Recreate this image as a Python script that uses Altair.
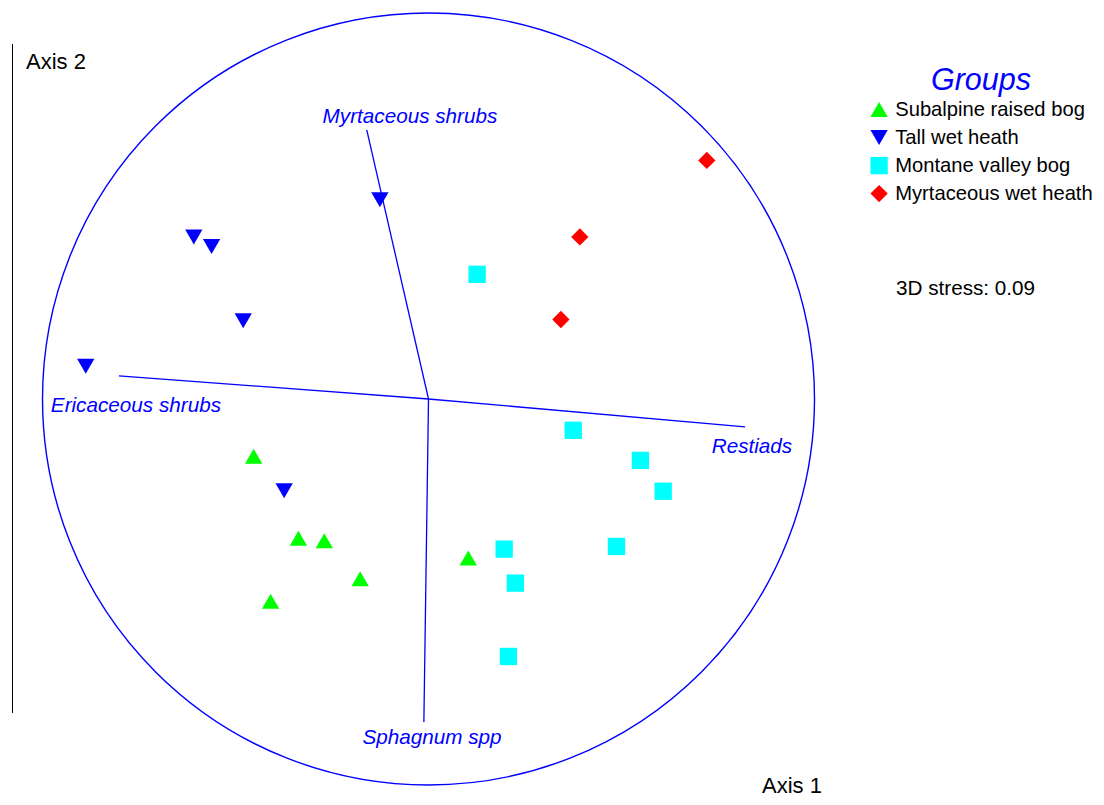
import altair as alt
import pandas as pd

# ---------------- data ----------------
groups = ["Subalpine raised bog", "Tall wet heath", "Montane valley bog", "Myrtaceous wet heath"]
group_colors = ["#00FF00", "#0000FF", "#00FFFF", "#FF0000"]
group_shapes = ["triangle-up", "triangle-down", "square", "diamond"]
group_sizes = [300, 300, 225, 289]

subalpine_x = [-0.453, -0.337, -0.270, -0.177, -0.409, 0.103]
subalpine_y = [-0.148, -0.361, -0.367, -0.466, -0.524, -0.412]
tall_x = [-0.126, -0.608, -0.562, -0.480, -0.888, -0.374]
tall_y = [0.516, 0.420, 0.395, 0.203, 0.085, -0.238]
montane_x = [0.126, 0.375, 0.549, 0.608, 0.487, 0.196, 0.225, 0.207]
montane_y = [0.323, -0.081, -0.159, -0.239, -0.382, -0.389, -0.477, -0.667]
myrt_x = [0.721, 0.392, 0.343]
myrt_y = [0.618, 0.420, 0.206]

vector_names = ["Myrtaceous shrubs", "Ericaceous shrubs", "Restiads", "Sphagnum spp"]
vector_x = [-0.160, -0.802, 0.820, -0.012]
vector_y = [0.697, 0.060, -0.072, -0.837]
label_x = [-0.048, -0.758, 0.838, 0.009]
label_y = [0.715, -0.034, -0.140, -0.894]

circle_radius = [1.0]
stress_text = "3D stress: 0.09"
axis1_title = "Axis 1"
axis2_title = "Axis 2"

# ---------------- tables ----------------
rows = []
for g, xs_, ys_ in zip(groups, [subalpine_x, tall_x, montane_x, myrt_x],
                       [subalpine_y, tall_y, montane_y, myrt_y]):
    for x, y in zip(xs_, ys_):
        rows.append({"group": g, "x": x, "y": y})
points_df = pd.DataFrame(rows)

vec_df = pd.DataFrame({"name": vector_names, "ox": 0.0, "oy": 0.0,
                       "vx": vector_x, "vy": vector_y,
                       "lx": label_x, "ly": label_y})
circle_df = pd.DataFrame({"x": [0.0], "y": [0.0], "r": circle_radius})

W, H = 1088, 789
PX_PER_UNIT = 386
xs = alt.Scale(domain=[-1.0894, -1.0894 + W / PX_PER_UNIT], nice=False, zero=False)
ys = alt.Scale(domain=[1.01295 - H / PX_PER_UNIT, 1.01295], nice=False, zero=False)
FONT = "Liberation Sans"
BLUE = "#0000FF"
FS = 20.7

# Vega's circle symbol is inscribed in a square of area `size`
circle = alt.Chart(circle_df).mark_point(
    shape="circle", filled=False, color=BLUE, strokeWidth=1.4, opacity=1,
    size=(2 * PX_PER_UNIT * circle_radius[0]) ** 2,
).encode(x=alt.X("x:Q", scale=xs, axis=None), y=alt.Y("y:Q", scale=ys, axis=None))

vectors = alt.Chart(vec_df).mark_rule(color=BLUE, strokeWidth=1.3).encode(
    x=alt.X("ox:Q", scale=xs, axis=None), y=alt.Y("oy:Q", scale=ys, axis=None),
    x2="vx:Q", y2="vy:Q",
)

vec_labels = alt.Chart(vec_df).mark_text(
    font=FONT, fontSize=FS, fontStyle="italic", color=BLUE, align="center", baseline="alphabetic"
).encode(
    x=alt.X("lx:Q", scale=xs, axis=None), y=alt.Y("ly:Q", scale=ys, axis=None), text="name:N"
)

points = alt.Chart(points_df).mark_point(filled=True, opacity=1, strokeWidth=0).encode(
    x=alt.X("x:Q", scale=xs, axis=None),
    y=alt.Y("y:Q", scale=ys, axis=None),
    color=alt.Color("group:N", scale=alt.Scale(domain=groups, range=group_colors), title="Groups"),
    shape=alt.Shape("group:N", scale=alt.Scale(domain=groups, range=group_shapes), title="Groups"),
    size=alt.Size("group:N", scale=alt.Scale(domain=groups, range=group_sizes), title="Groups"),
)

ann_df = pd.DataFrame({"t": [stress_text]})
stress = alt.Chart(ann_df).mark_text(font=FONT, fontSize=FS, color="black", align="left",
                                     baseline="alphabetic").encode(
    x=alt.value(888), y=alt.value(287), text="t:N")
ax1_df = pd.DataFrame({"t": [axis1_title]})
ax1 = alt.Chart(ax1_df).mark_text(font=FONT, fontSize=22, color="black", align="left",
                                  baseline="alphabetic").encode(
    x=alt.value(754), y=alt.value(785), text="t:N")
ax2_df = pd.DataFrame({"t": [axis2_title]})
ax2 = alt.Chart(ax2_df).mark_text(font=FONT, fontSize=22, color="black", align="left",
                                  baseline="alphabetic").encode(
    x=alt.value(18), y=alt.value(61), text="t:N")
ax2_line = alt.Chart(ax2_df).mark_rule(color="black", strokeWidth=1).encode(
    x=alt.value(4.5), y=alt.value(36), y2=alt.value(705))

chart = alt.layer(circle, vectors, vec_labels, points, stress, ax1, ax2, ax2_line).properties(
    width=W, height=H, padding=0, autosize=alt.AutoSizeParams(type="none"),
).configure_view(strokeWidth=0).configure_legend(
    orient="none", legendX=861, legendY=58, padding=0,
    titleFont=FONT, titleFontSize=30.5, titleFontStyle="italic", titleFontWeight="normal",
    titleColor=BLUE, titleAnchor="middle", titlePadding=3, titleLimit=400,
    labelFont=FONT, labelFontSize=20.2, labelColor="black", labelOffset=6, labelLimit=400,
    rowPadding=7.0, symbolStrokeWidth=0, symbolOpacity=1,
)

chart.save("out.html", embed_options={"renderer": "svg", "actions": False})
